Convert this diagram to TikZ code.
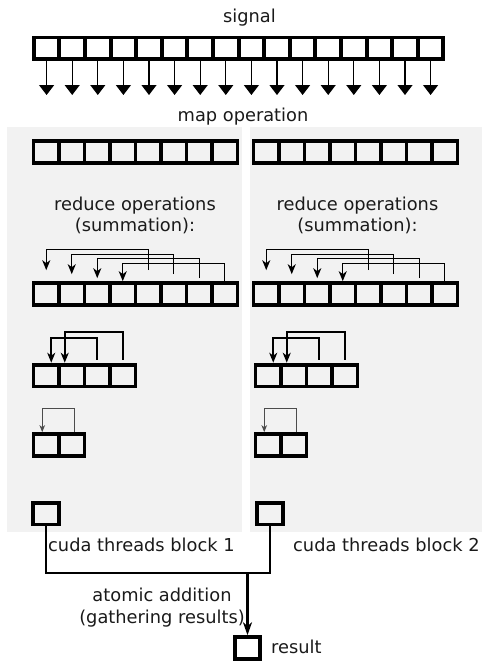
\documentclass[tikz,border=0pt]{standalone}
\usepackage{fontspec}
\setmainfont{DejaVu Sans}
\usetikzlibrary{arrows.meta,calc}
\definecolor{panelgray}{HTML}{F2F2F2}
\definecolor{txt}{HTML}{1A1A1A}
\begin{document}
\begin{tikzpicture}[x=1pt,y=-1pt,
  cell/.style={draw=black, line width=3.8pt, minimum width=25.5pt, minimum height=21.8pt, inner sep=0pt},
  lbl/.style={inner sep=0pt, font=\fontsize{17.8}{21}\selectfont, text=txt},
  panel/.style={fill=panelgray},
  maparrow/.style={line width=1.1pt, -{Triangle[width=15pt,length=10pt]}},
  arrA/.style={line width=1.3pt, -{Stealth[length=10pt,width=8pt,inset=3pt]}},
  arrB/.style={line width=2pt, -{Stealth[length=10pt,width=8pt,inset=3pt]}},
  arrC/.style={line width=1.1pt, draw=black!70, -{Stealth[length=7pt,width=5.5pt,inset=2pt]}},
  gather/.style={line width=1.7pt},
  resarrow/.style={line width=2.2pt, -{Stealth[length=13pt,width=9pt,inset=4pt]}}]
\useasboundingbox (0,0) rectangle (482,662);
% panels
\fill[panel] (7,127) rectangle (242,532);
\fill[panel] (250,127) rectangle (482,532);
% signal
\node[lbl, anchor=base] (tsig) at (249.5,22) {signal};
\foreach \i in {0,...,15} {
  \node[cell] (s\i) at ({46.6+25.6*\i},48.3) {};
  \coordinate (m\i) at ({46.6+25.6*\i},95);
  \draw[maparrow] (s\i.south) -- (m\i);
}
\node[lbl, anchor=base] (tmap) at (243,121) {map operation};
% map rows
\foreach \i in {0,...,7} {
  \node[cell] (La\i) at ({46.25+25.5*\i},152) {};
  \node[cell] (Ra\i) at ({266.25+25.5*\i},152) {};
}
% reduce labels
\node[lbl, anchor=base] (tredL1) at (135,210.7) {reduce operations};
\node[lbl, anchor=base] (tredL2) at (135,231.7) {(summation):};
\node[lbl, anchor=base] (tredR1) at (357.5,210.7) {reduce operations};
\node[lbl, anchor=base] (tredR2) at (357.5,231.7) {(summation):};
% reduce row 1
\foreach \i in {0,...,7} {
  \node[cell] (Lb\i) at ({46.25+25.5*\i},294) {};
  \node[cell] (Rb\i) at ({266.25+25.5*\i},294) {};
}
\foreach \i/\e/\h in {0/11/31.5, 1/7/27, 2/3/22.5, 3/0/18} {
  \pgfmathtruncatemacro\j{\i+4}
  \draw[arrA] ([yshift=\e pt]Lb\j.north) -- ([yshift=\h pt]Lb\j.north) -| ([yshift=\e pt]Lb\i.north);
  \draw[arrA] ([yshift=\e pt]Rb\j.north) -- ([yshift=\h pt]Rb\j.north) -| ([yshift=\e pt]Rb\i.north);
}
% reduce row 2
\foreach \i in {0,...,3} {
  \node[cell] (Lc\i) at ({46.25+25.5*\i},375.5) {};
  \node[cell] (Rc\i) at ({268.25+25.5*\i},375.5) {};
}
\foreach \p in {L,R} {
  \draw[arrB] ([yshift=3pt]\p c2.north) -- ([yshift=24.5pt]\p c2.north) -| ([xshift=5pt]\p c0.north);
  \draw[arrB] ([yshift=3pt]\p c3.north) -- ([yshift=30.5pt]\p c3.north) -| ([xshift=-7pt]\p c1.north);
}
% reduce row 3
\foreach \i in {0,1} {
  \node[cell] (Ld\i) at ({46.25+25.5*\i},445) {};
  \node[cell] (Rd\i) at ({268.25+25.5*\i},445) {};
}
\foreach \p in {L,R} {
  \draw[arrC] ([xshift=3pt]\p d1.north) -- ([xshift=3pt,yshift=24pt]\p d1.north) -| ([xshift=-4pt]\p d0.north);
}
% final cells
\node[cell] (Le) at (46,513.5) {};
\node[cell] (Re) at (270,513.5) {};
\node[lbl, anchor=base west] (tb1) at (48,551) {cuda threads block 1};
\node[lbl, anchor=base west] (tb2) at (293,551) {cuda threads block 2};
% gathering
\coordinate (j) at (247.5,573);
\node[cell] (res) at (247.5,648) {};
\draw[gather] (Le.south) |- (j) -| (Re.south);
\draw[resarrow] (j) -- (res.north);
\node[lbl, anchor=base] (tat1) at (162,601.7) {atomic addition};
\node[lbl, anchor=base] (tat2) at (162,623) {(gathering results)};
\node[lbl, anchor=base west] (tres) at (271,653) {result};
\end{tikzpicture}
\end{document}
